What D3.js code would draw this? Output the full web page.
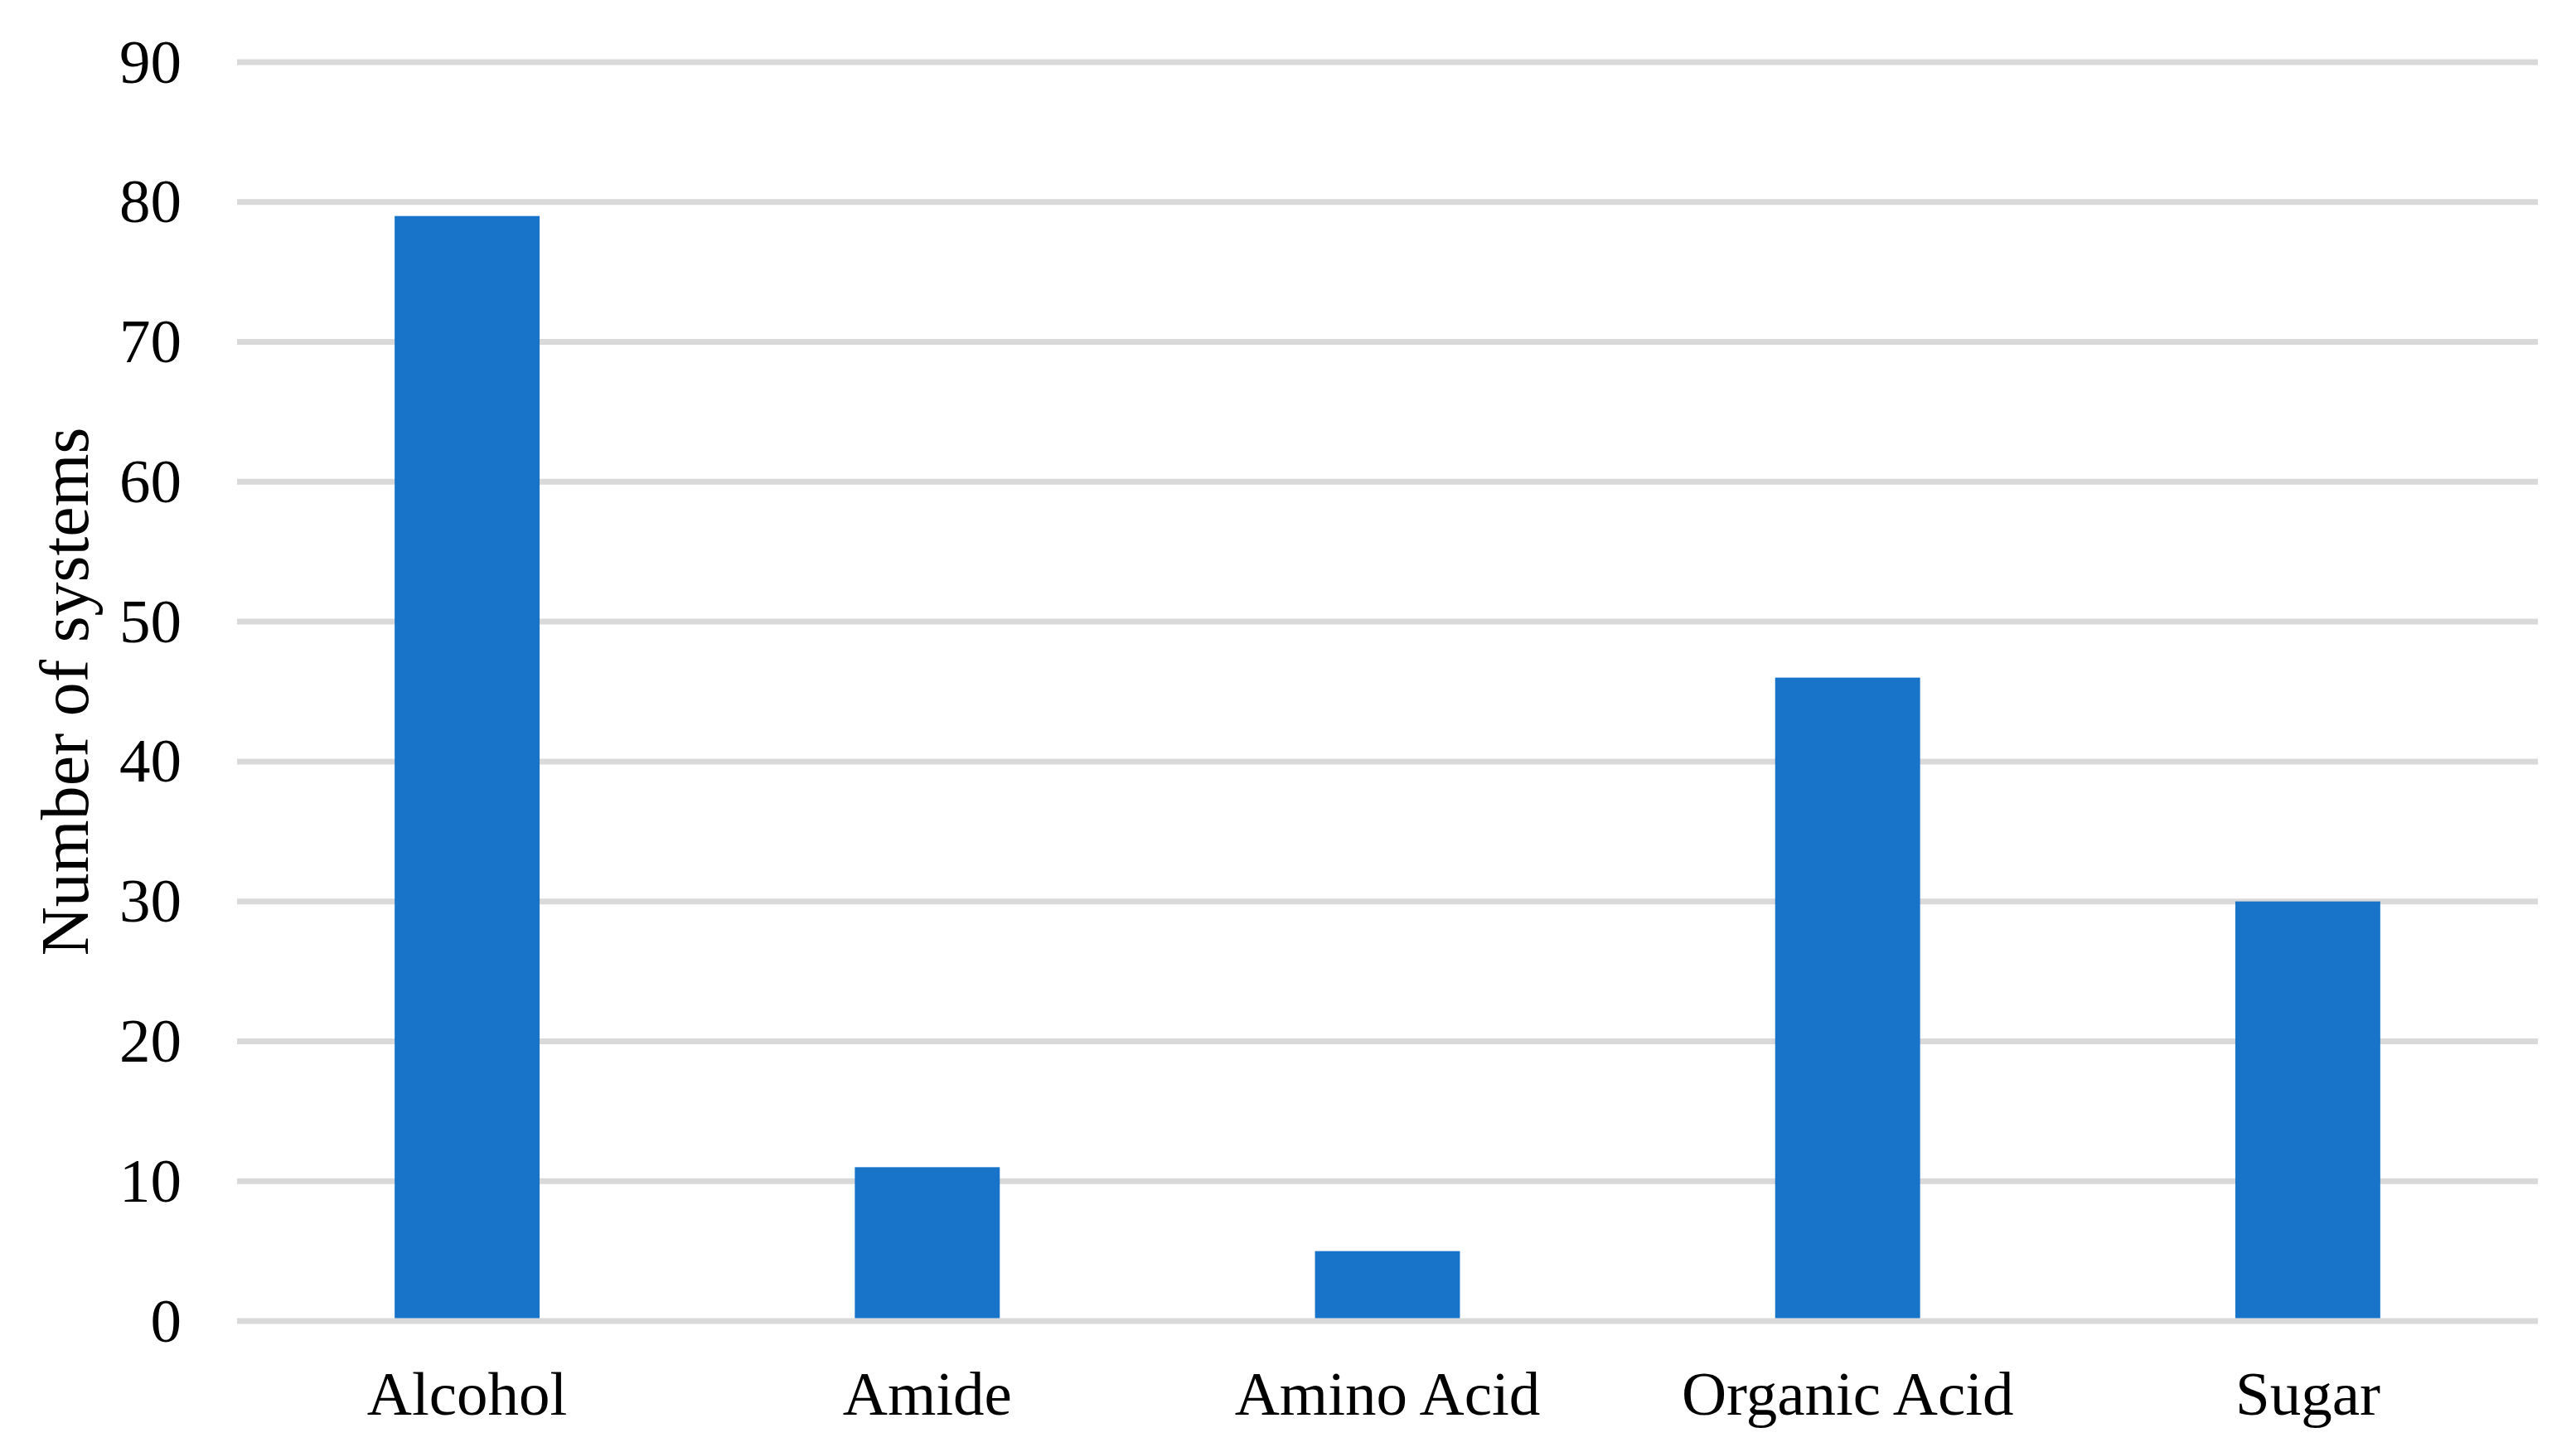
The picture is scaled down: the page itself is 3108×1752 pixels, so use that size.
<!DOCTYPE html>
<html>
<head>
<meta charset="utf-8">
<script src="https://cdn.jsdelivr.net/npm/d3@7"></script>
<style>
  html, body { margin: 0; padding: 0; background: #ffffff; }
  svg { display: block; }
</style>
</head>
<body>
<svg id="chart" width="3108" height="1752"></svg>
<script>
const categories = ["Alcohol", "Amide", "Amino Acid", "Organic Acid", "Sugar"];
const values = [79, 11, 5, 46, 30];
const yTicks = [0, 10, 20, 30, 40, 50, 60, 70, 80, 90];
const yTitle = "Number of systems";

const W = 3108, H = 1752;
const margin = { left: 286, right: 46, top: 75, bottom: 158 };
const svg = d3.select("#chart");
const font = "'Liberation Serif', 'Times New Roman', serif";

const x = d3.scaleBand()
  .domain(categories)
  .range([margin.left, W - margin.right])
  .paddingInner(0.685)
  .paddingOuter(0.3425);

const y = d3.scaleLinear()
  .domain([0, 90])
  .range([H - margin.bottom, margin.top]);

// gridlines
svg.append("g")
  .selectAll("line")
  .data(yTicks)
  .join("line")
  .attr("x1", margin.left)
  .attr("x2", W - margin.right)
  .attr("y1", d => y(d))
  .attr("y2", d => y(d))
  .attr("stroke", "#d9d9d9")
  .attr("stroke-width", 7);

// bars
svg.append("g")
  .selectAll("rect")
  .data(categories.map((c, i) => ({ c, v: values[i] })))
  .join("rect")
  .attr("x", d => x(d.c))
  .attr("width", x.bandwidth())
  .attr("y", d => y(d.v))
  .attr("height", d => y(0) - 3.5 - y(d.v))
  .attr("fill", "#1874c9");

// y axis labels
const yAxis = d3.axisLeft(y).tickValues(yTicks).tickSize(0).tickPadding(0);
const gy = svg.append("g")
  .attr("transform", `translate(${margin.left - 67},0)`)
  .call(yAxis);
gy.select(".domain").remove();
gy.selectAll("text")
  .attr("font-family", font)
  .attr("font-size", 75)
  .attr("fill", "#000")
  .attr("dy", "0.32em");

// x axis labels
const xAxis = d3.axisBottom(x).tickSize(0).tickPadding(0);
const gx = svg.append("g")
  .attr("transform", `translate(0,${y(0)})`)
  .call(xAxis);
gx.select(".domain").remove();
gx.selectAll("text")
  .attr("font-family", font)
  .attr("font-size", 75)
  .attr("fill", "#000")
  .attr("dy", null)
  .attr("y", 113);

// y title
svg.append("text")
  .attr("transform", `translate(106,${(y(0) + y(90)) / 2}) rotate(-90)`)
  .attr("text-anchor", "middle")
  .attr("font-family", font)
  .attr("font-size", 82)
  .attr("fill", "#000")
  .text(yTitle);
</script>
</body>
</html>
